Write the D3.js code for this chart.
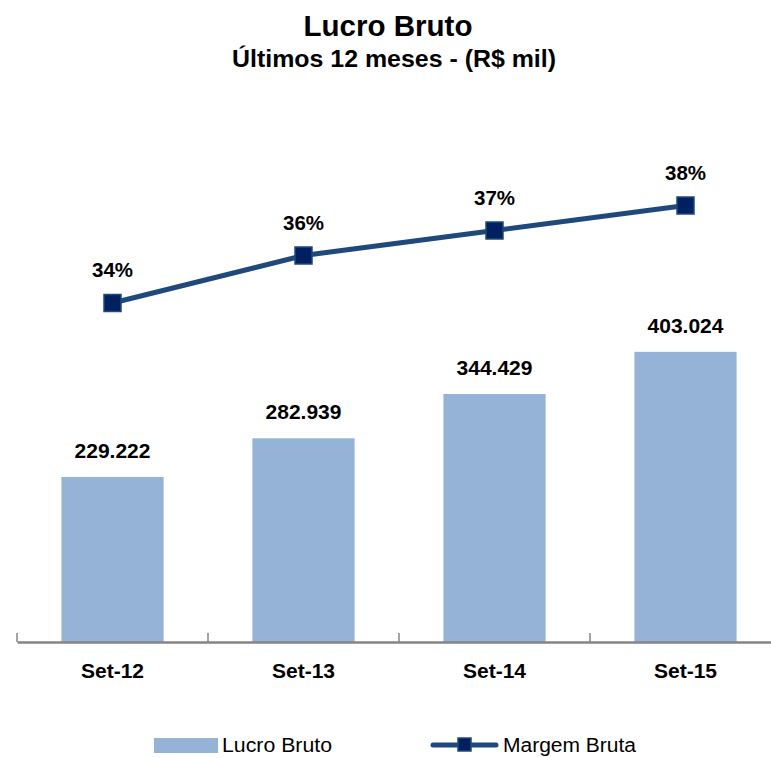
<!DOCTYPE html>
<html>
<head>
<meta charset="utf-8">
<script src="https://cdn.jsdelivr.net/npm/d3@7"></script>
<style>
  body { margin: 0; background: #fff; }
  svg text { font-family: "Liberation Sans", Arial, sans-serif; }
</style>
</head>
<body>
<div class="svgcontainer"></div>
<script>
const categories = ['Set-12', 'Set-13', 'Set-14', 'Set-15'];
const lucroBruto = [229.222, 282.939, 344.429, 403.024];
const margemBruta = [34.0, 35.9, 36.9, 37.9];

const svg = d3
  .select('.svgcontainer')
  .append('svg')
  .attr('width', 771)
  .attr('height', 758);

// x: one band per month, axis runs past the right edge like the original
const x = d3.scaleBand().domain(categories).range([17, 781]).padding(0);
const barW = x.bandwidth() * 0.535;

const y = d3.scaleLinear().domain([0, 450]).range([642, 318]);
const y2 = d3.scaleLinear().domain([22, 40]).range([603, 153]);

// titles
svg.append('text')
  .attr('x', 388)
  .attr('y', 36)
  .attr('text-anchor', 'middle')
  .attr('textLength', 169)
  .attr('lengthAdjust', 'spacingAndGlyphs')
  .style('font-size', '30px')
  .style('font-weight', 'bold')
  .text('Lucro Bruto');

svg.append('text')
  .attr('x', 394)
  .attr('y', 67)
  .attr('text-anchor', 'middle')
  .attr('textLength', 324)
  .attr('lengthAdjust', 'spacingAndGlyphs')
  .style('font-size', '23px')
  .style('font-weight', 'bold')
  .text('Últimos 12 meses - (R$ mil)');

// bars
svg.selectAll('.bar')
  .data(lucroBruto)
  .enter()
  .append('rect')
  .attr('class', 'bar')
  .attr('x', (d, i) => x(categories[i]) + (x.bandwidth() - barW) / 2)
  .attr('y', d => y(d))
  .attr('width', barW)
  .attr('height', d => y(0) - y(d))
  .attr('fill', '#95b3d7');

svg.selectAll('.barlabel')
  .data(lucroBruto)
  .enter()
  .append('text')
  .attr('class', 'barlabel')
  .attr('x', (d, i) => x(categories[i]) + x.bandwidth() / 2)
  .attr('y', d => y(d) - 19)
  .attr('text-anchor', 'middle')
  .attr('textLength', 76)
  .attr('lengthAdjust', 'spacingAndGlyphs')
  .style('font-size', '20px')
  .style('font-weight', 'bold')
  .text(d => d.toFixed(3));

// axis
const xAxis = svg.append('g')
  .attr('transform', `translate(0,${y(0)})`)
  .call(d3.axisBottom(x).tickSize(0).tickPadding(21));
xAxis.select('.domain').attr('stroke', '#858585').attr('stroke-width', 2.5);
xAxis.selectAll('text')
  .style('font-size', '21px')
  .style('font-weight', 'bold')
  .attr('fill', '#000')
  .attr('dy', 0)
  .attr('y', 36)
  .style('font-family', '"Liberation Sans", Arial, sans-serif');

svg.append('g')
  .selectAll('line')
  .data(categories)
  .enter()
  .append('line')
  .attr('x1', d => x(d))
  .attr('x2', d => x(d))
  .attr('y1', y(0))
  .attr('y2', y(0) - 9)
  .attr('stroke', '#858585')
  .attr('stroke-width', 1.5);

// line
const cx = (d, i) => x(categories[i]) + x.bandwidth() / 2;
const line = d3.line().x(cx).y(d => y2(d));

svg.append('path')
  .datum(margemBruta)
  .attr('d', line)
  .attr('fill', 'none')
  .attr('stroke', '#1f497d')
  .attr('stroke-width', 5);

svg.selectAll('.marker')
  .data(margemBruta)
  .enter()
  .append('rect')
  .attr('class', 'marker')
  .attr('x', (d, i) => cx(d, i) - 8.5)
  .attr('y', d => y2(d) - 8.5)
  .attr('width', 17)
  .attr('height', 17)
  .attr('fill', '#002060')
  .attr('stroke', '#1f497d')
  .attr('stroke-width', 1.5);

svg.selectAll('.linelabel')
  .data(margemBruta)
  .enter()
  .append('text')
  .attr('class', 'linelabel')
  .attr('x', cx)
  .attr('y', d => y2(d) - 26)
  .attr('text-anchor', 'middle')
  .attr('textLength', 41)
  .attr('lengthAdjust', 'spacingAndGlyphs')
  .style('font-size', '20px')
  .style('font-weight', 'bold')
  .text(d => Math.round(d) + '%');

// legend
const legend = svg.append('g');
legend.append('rect')
  .attr('x', 154)
  .attr('y', 738)
  .attr('width', 64)
  .attr('height', 15)
  .attr('fill', '#95b3d7');
legend.append('text')
  .attr('x', 222)
  .attr('y', 752)
  .attr('textLength', 110)
  .attr('lengthAdjust', 'spacingAndGlyphs')
  .style('font-size', '20px')
  .text('Lucro Bruto');

legend.append('line')
  .attr('x1', 433)
  .attr('x2', 496)
  .attr('y1', 745)
  .attr('y2', 745)
  .attr('stroke', '#1f497d')
  .attr('stroke-width', 5)
  .attr('stroke-linecap', 'round');
legend.append('rect')
  .attr('x', 458)
  .attr('y', 738)
  .attr('width', 13)
  .attr('height', 13)
  .attr('fill', '#002060')
  .attr('stroke', '#1f497d')
  .attr('stroke-width', 1.5);
legend.append('text')
  .attr('x', 503)
  .attr('y', 752)
  .attr('textLength', 133)
  .attr('lengthAdjust', 'spacingAndGlyphs')
  .style('font-size', '20px')
  .text('Margem Bruta');
</script>
</body>
</html>
